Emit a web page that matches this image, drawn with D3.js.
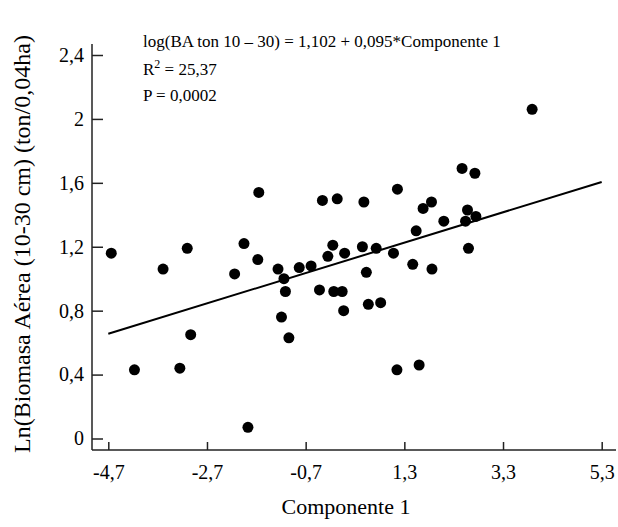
<!DOCTYPE html>
<html>
<head>
<meta charset="utf-8">
<script src="https://cdn.jsdelivr.net/npm/d3@7"></script>
<style>
  body { margin: 0; background: #fff; }
  svg text { font-family: "Liberation Serif", "Times New Roman", serif; fill: #000; }
</style>
</head>
<body>
<div id="chart"></div>
<script>
// Componente 1 (x) vs Ln(Biomasa Aérea 10-30 cm) (y)
const compX = [-4.64, -4.17, -3.59, -3.25, -3.10, -3.03, -2.14, -1.95, -1.87, -1.67,
               -1.65, -1.26, -1.19, -1.14, -1.11, -1.04, -0.83, -0.59, -0.42, -0.36,
               -0.25, -0.15, -0.13, -0.06, 0.04, 0.07, 0.09, 0.45, 0.48, 0.53,
               0.57, 0.73, 0.82, 1.08, 1.15, 1.16, 1.47, 1.54, 1.60, 1.68,
               1.85, 1.86, 2.10, 2.47, 2.54, 2.58, 2.60, 2.73, 2.75, 3.89]
const lnBiomasa = [1.16, 0.43, 1.06, 0.44, 1.19, 0.65, 1.03, 1.22, 0.07, 1.12,
                   1.54, 1.06, 0.76, 1.00, 0.92, 0.63, 1.07, 1.08, 0.93, 1.49,
                   1.14, 1.21, 0.92, 1.50, 0.92, 0.80, 1.16, 1.20, 1.48, 1.04,
                   0.84, 1.19, 0.85, 1.16, 0.43, 1.56, 1.09, 1.30, 0.46, 1.44,
                   1.48, 1.06, 1.36, 1.69, 1.36, 1.43, 1.19, 1.66, 1.39, 2.06]

// fitted model
const intercept = 1.102
const slope = 0.095
const fitRange = [-4.7, 5.3]

const xTicks = [-4.7, -2.7, -0.7, 1.3, 3.3, 5.3]
const yTicks = [0, 0.4, 0.8, 1.2, 1.6, 2.0, 2.4]
const annotation = ["log(BA ton 10 \u2013 30) = 1,102 + 0,095*Componente 1", "R", "P = 0,0002"]

const width = 618, height = 527

const svg = d3.select("#chart").append("svg")
    .attr("width", width)
    .attr("height", height)

const x = d3.scaleLinear().domain([-4.7, 5.3]).range([108.3, 601.7])
const y = d3.scaleLinear().domain([0, 2.4]).range([438.5, 55])

const loc = d3.formatLocale({decimal: ",", thousands: ".", grouping: [3], currency: ["", ""], minus: "-"})
const fmtX = loc.format(".1f")
const fmtY = loc.format(".1~f")

const axisLeftX = 92, axisBottomY = 450

// minor ticks on x every 0.5
let minor = []
for (let i = 0; i <= 20; i++) minor.push(+(-4.7 + i * 0.5).toFixed(1))
minor = minor.filter(v => !xTicks.includes(v))

// x axis
const gx = svg.append("g").attr("transform", `translate(0,${axisBottomY})`)
gx.call(d3.axisBottom(x).tickValues(minor).tickSize(-4).tickFormat(""))
gx.call(d3.axisBottom(x).tickValues(xTicks).tickSizeInner(-8).tickSizeOuter(0).tickPadding(15).tickFormat(fmtX))
gx.selectAll(".domain").remove()
gx.selectAll("line").attr("stroke", "#222").attr("stroke-width", 1.5)
gx.selectAll("text").attr("font-size", 20).attr("fill", "#000")

svg.append("line")
    .attr("x1", axisLeftX).attr("x2", 616)
    .attr("y1", axisBottomY).attr("y2", axisBottomY)
    .attr("stroke", "#222").attr("stroke-width", 1.5)

// y axis
const gy = svg.append("g").attr("transform", `translate(${axisLeftX},0)`)
gy.call(d3.axisLeft(y).tickValues(yTicks).tickSizeInner(-11).tickSizeOuter(0).tickPadding(8).tickFormat(fmtY))
gy.selectAll(".domain").remove()
gy.selectAll("line").attr("stroke", "#222").attr("stroke-width", 1.5)
gy.selectAll("text").attr("font-size", 20).attr("fill", "#000")

svg.append("line")
    .attr("x1", axisLeftX).attr("x2", axisLeftX)
    .attr("y1", 44).attr("y2", axisBottomY)
    .attr("stroke", "#222").attr("stroke-width", 1.5)

// axis titles
svg.append("text")
    .attr("x", 346).attr("y", 514)
    .attr("text-anchor", "middle")
    .attr("font-size", 22)
    .text("Componente 1")

svg.append("text")
    .attr("transform", "translate(30,244) rotate(-90)")
    .attr("text-anchor", "middle")
    .attr("font-size", 24)
    .text("Ln(Biomasa A\u00e9rea (10-30 cm) (ton/0,04ha)")

// regression line
svg.append("line")
    .attr("x1", x(fitRange[0])).attr("y1", y(intercept + slope * fitRange[0]))
    .attr("x2", x(fitRange[1])).attr("y2", y(intercept + slope * fitRange[1]))
    .attr("stroke", "#000").attr("stroke-width", 2)

// points
svg.append("g")
    .selectAll("circle")
    .data(d3.range(compX.length))
    .join("circle")
    .attr("cx", i => x(compX[i]))
    .attr("cy", i => y(lnBiomasa[i]))
    .attr("r", 5.5)
    .attr("fill", "#000")

// annotation
const ann = svg.append("g").attr("font-size", 17)
ann.append("text").attr("x", 143).attr("y", 47).text(annotation[0])
const r2 = ann.append("text").attr("x", 143).attr("y", 75)
r2.append("tspan").text(annotation[1])
r2.append("tspan").attr("dy", -7).attr("font-size", 12).text("2")
r2.append("tspan").attr("dy", 7).text(" = 25,37")
ann.append("text").attr("x", 143).attr("y", 101).text(annotation[2])
</script>
</body>
</html>
